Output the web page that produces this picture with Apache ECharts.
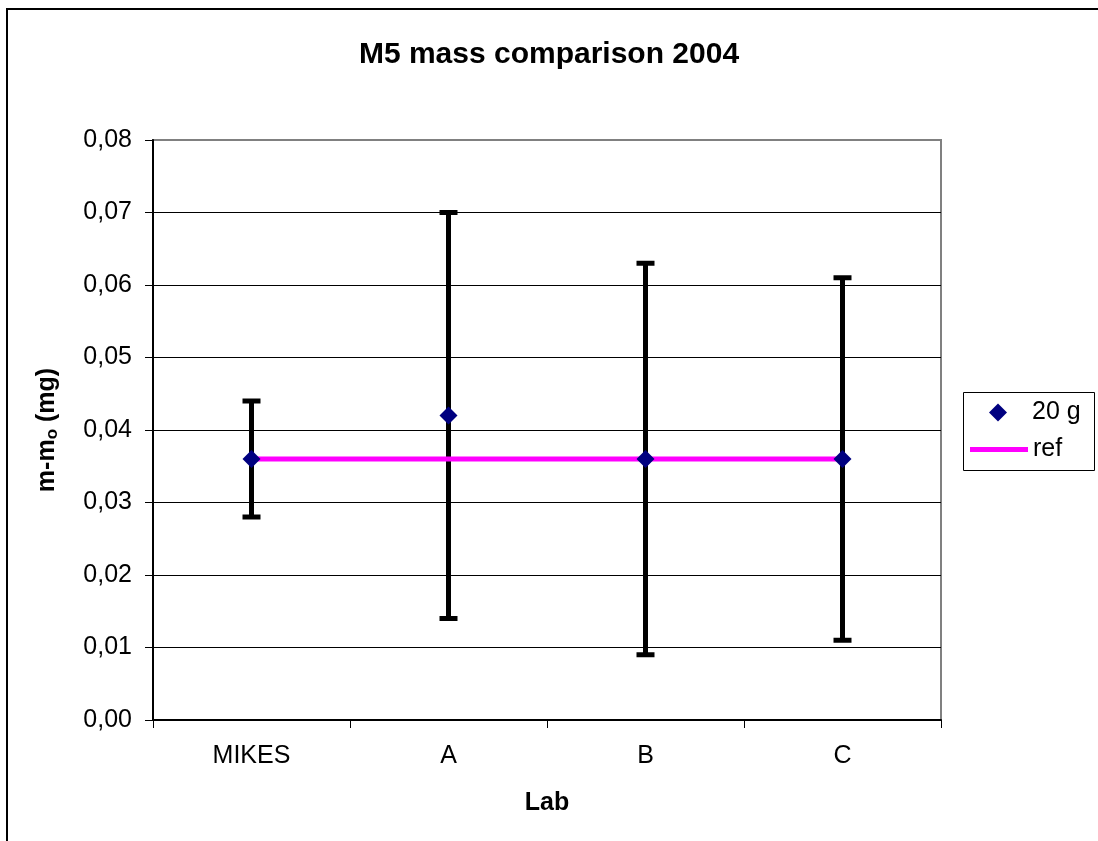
<!DOCTYPE html>
<html>
<head>
<meta charset="utf-8">
<title>M5 mass comparison 2004</title>
<script src="https://cdn.jsdelivr.net/npm/echarts@6/dist/echarts.min.js"></script>
<style>
  html, body { margin: 0; padding: 0; background: #fff; }
  #chart { width: 1098px; height: 841px; }
</style>
</head>
<body>
<div id="chart"></div>
<script>
    // data
    var labs = ['MIKES', 'A', 'B', 'C'];
    var massValues = [0.036, 0.042, 0.036, 0.036];
    var errLow = [0.028, 0.014, 0.009, 0.011];
    var errHigh = [0.044, 0.070, 0.063, 0.061];
    var refValues = [0.036, 0.036, 0.036, 0.036];

    var font = "'Liberation Sans', Arial, sans-serif";

    var errData = labs.map(function (name, i) {
        return [i, errLow[i], errHigh[i]];
    });

    function renderErrorBar(params, api) {
        var x = api.value(0);
        var low = api.coord([x, api.value(1)]);
        var high = api.coord([x, api.value(2)]);
        var capHalf = 9;
        var style = { stroke: '#000', lineWidth: 5 };
        return {
            type: 'group',
            children: [
                { type: 'line', shape: { x1: low[0], y1: low[1], x2: high[0], y2: high[1] }, style: style },
                { type: 'line', shape: { x1: high[0] - capHalf, y1: high[1], x2: high[0] + capHalf, y2: high[1] }, style: style },
                { type: 'line', shape: { x1: low[0] - capHalf, y1: low[1], x2: low[0] + capHalf, y2: low[1] }, style: style }
            ]
        };
    }

    var legendText = { fontSize: 25, color: '#000', fontFamily: font };

    var chart = echarts.init(document.getElementById('chart'));
    chart.setOption({
        backgroundColor: '#fff',
        animation: false,
        textStyle: { fontFamily: font },
        title: {
            text: 'M5 mass comparison 2004',
            left: 'center',
            top: 35,
            textStyle: { fontSize: 30, fontWeight: 'bold', color: '#000', fontFamily: font }
        },
        graphic: [{
            type: 'rect',
            shape: { x: 7, y: 9, width: 1200, height: 1000 },
            style: { fill: 'none', stroke: '#000', lineWidth: 2 },
            z: 100
        }, {
            // legend frame
            type: 'rect',
            shape: { x: 963.5, y: 392.5, width: 131, height: 78 },
            style: { fill: '#fff', stroke: '#000', lineWidth: 1 },
            z: 1
        }],
        grid: {
            left: 153,
            right: 157,
            top: 140,
            bottom: 121,
            show: true,
            borderColor: '#808080',
            borderWidth: 2,
            backgroundColor: '#fff'
        },
        legend: [{
            left: 989,
            top: 400,
            padding: 0,
            itemWidth: 18,
            itemHeight: 18,
            textStyle: { fontSize: 25, color: '#000', fontFamily: font, padding: [0, 0, 0, 20] },
            data: [{ name: '20 g', icon: 'diamond' }],
            z: 5
        }, {
            left: 970,
            top: 437,
            padding: 0,
            itemWidth: 58,
            itemHeight: 5,
            textStyle: legendText,
            data: [{ name: 'ref', icon: 'rect' }],
            z: 5
        }],
        xAxis: {
            type: 'category',
            data: labs,
            name: 'Lab',
            nameLocation: 'middle',
            nameGap: 71,
            nameTextStyle: { fontSize: 25, fontWeight: 'bold', color: '#000', fontFamily: font },
            axisLine: { lineStyle: { color: '#000', width: 2 } },
            axisTick: { show: true, length: 8, lineStyle: { color: '#000', width: 1 } },
            axisLabel: { fontSize: 25, color: '#000', margin: 24, fontFamily: font },
            splitLine: { show: false }
        },
        yAxis: {
            type: 'value',
            min: 0,
            max: 0.08,
            interval: 0.01,
            name: '{n|m-m}{s|o}{n| (mg)}',
            nameLocation: 'middle',
            nameGap: 92,
            nameTextStyle: {
                rich: {
                    n: { fontSize: 25, fontWeight: 'bold', color: '#000', fontFamily: font },
                    s: { fontSize: 17, fontWeight: 'bold', color: '#000', fontFamily: font, padding: [10, 0, 0, 0] }
                }
            },
            axisLine: { show: true, lineStyle: { color: '#000', width: 2 } },
            axisTick: { show: true, length: 8, lineStyle: { color: '#000', width: 1 } },
            axisLabel: {
                fontSize: 25,
                color: '#000',
                margin: 21,
                fontFamily: font,
                formatter: function (v) { return v.toFixed(2).replace('.', ','); }
            },
            splitLine: { show: true, showMinLine: false, showMaxLine: false, lineStyle: { color: '#000', width: 1 } }
        },
        series: [
            {
                name: 'error',
                type: 'custom',
                renderItem: renderErrorBar,
                data: errData,
                z: 2
            },
            {
                name: 'ref',
                type: 'line',
                data: refValues,
                symbol: 'none',
                lineStyle: { color: '#ff00ff', width: 5 },
                itemStyle: { color: '#ff00ff' },
                z: 3
            },
            {
                name: '20 g',
                type: 'scatter',
                data: massValues,
                symbol: 'diamond',
                symbolSize: 18,
                itemStyle: { color: '#000080', opacity: 1 },
                z: 4
            }
        ]
    });
</script>
</body>
</html>
